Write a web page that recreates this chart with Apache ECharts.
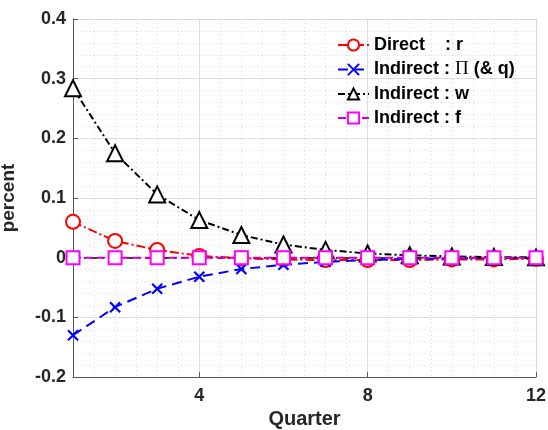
<!DOCTYPE html>
<html>
<head>
<meta charset="utf-8">
<script src="https://cdn.jsdelivr.net/npm/echarts@6/dist/echarts.min.js"></script>
<style>
  html, body { margin: 0; padding: 0; background: #fff; }
  #chart { width: 548px; height: 430px; }
</style>
</head>
<body>
<div id="chart"></div>
<script>
// quarters 1..12
const quarters = [1, 2, 3, 4, 5, 6, 7, 8, 9, 10, 11, 12];
const directR = [0.060, 0.028, 0.013, 0.003, -0.001, -0.003, -0.004, -0.004, -0.004, -0.003, -0.003, -0.002];
const indirectPi = [-0.130, -0.083, -0.052, -0.032, -0.019, -0.012, -0.007, -0.004, -0.002, -0.001, -0.0005, 0];
const indirectW = [0.284, 0.175, 0.106, 0.063, 0.038, 0.022, 0.013, 0.007, 0.004, 0.002, 0.001, 0.0005];
const indirectF = [0, 0, 0, 0, 0, 0, 0, 0, 0, 0, 0, 0];
const xTicks = [4, 8, 12];

const font = 'Liberation Sans, Arial, Helvetica, sans-serif';
const txt = '#262626';

function pairs(ys) {
  return quarters.map((q, i) => [q, ys[i]]);
}

let chart = echarts.init(document.getElementById('chart'));

const legendNames = {
  'Direct': '{a|Direct    : r}',
  'IndirectPi': '{a|Indirect : }{s|Π}{a| (& q)}',
  'IndirectW': '{a|Indirect : w}',
  'IndirectF': '{a|Indirect : f}'
};

chart.setOption({
  animation: false,
  grid: { left: 73, right: 12, top: 19, bottom: 53, outerBoundsMode: 'none' },
  legend: {
    orient: 'vertical',
    left: 332,
    top: 31,
    itemWidth: 31,
    itemHeight: 14,
    itemGap: 6,
    formatter: name => legendNames[name],
    textStyle: {
      rich: {
        a: { fontFamily: font, fontWeight: 'bold', fontSize: 18, color: '#000', lineHeight: 20 },
        s: { fontFamily: 'Liberation Serif, Times New Roman, serif', fontSize: 19, color: '#000', lineHeight: 20 }
      }
    },
    data: ['Direct', 'IndirectPi', 'IndirectW', 'IndirectF']
  },
  xAxis: [
    {
      type: 'value',
      min: 1, max: 12,
      position: 'bottom',
      name: 'Quarter',
      nameLocation: 'middle',
      nameGap: 28,
      nameTextStyle: { fontFamily: font, fontWeight: 'bold', fontSize: 20, color: txt },
      axisLine: { show: true, onZero: false, lineStyle: { color: '#555', width: 1 } },
      axisTick: { show: true, inside: true, length: 5, customValues: xTicks, lineStyle: { color: '#555' } },
      axisLabel: { customValues: xTicks, margin: 10, fontFamily: font, fontWeight: 'bold', fontSize: 18, color: txt },
      splitLine: { show: true, lineStyle: { color: '#dedede', width: 1 } }
    },
    {
      type: 'value',
      min: 1, max: 12, interval: 0.5,
      position: 'top',
      axisLine: { show: true, onZero: false, lineStyle: { color: '#d8d8d8', width: 1 } },
      axisTick: { show: false },
      axisLabel: { show: false },
      splitLine: { show: true, lineStyle: { color: '#d9d9d9', width: 1, type: [1, 3] } }
    }
  ],
  yAxis: [
    {
      type: 'value',
      min: -0.2, max: 0.4, interval: 0.1,
      position: 'left',
      name: 'percent',
      nameLocation: 'middle',
      nameGap: 55,
      nameMoveOverlap: false,
      nameTextStyle: { fontFamily: font, fontWeight: 'bold', fontSize: 19, color: txt },
      axisLine: { show: true, onZero: false, lineStyle: { color: '#555', width: 1 } },
      axisTick: { show: true, inside: true, length: 5, lineStyle: { color: '#555' } },
      axisLabel: { margin: 7, fontFamily: font, fontWeight: 'bold', fontSize: 18, color: txt },
      splitLine: { show: true, lineStyle: { color: '#dedede', width: 1 } }
    },
    {
      type: 'value',
      min: -0.2, max: 0.4, interval: 0.02,
      position: 'right',
      axisLine: { show: true, onZero: false, lineStyle: { color: '#d8d8d8', width: 1 } },
      axisTick: { show: false },
      axisLabel: { show: false },
      splitLine: { show: true, lineStyle: { color: '#d9d9d9', width: 1, type: [1, 3] } }
    }
  ],
  series: [
    {
      name: 'Direct',
      type: 'line',
      data: pairs(directR),
      symbol: 'emptyCircle',
      symbolSize: 14,
      itemStyle: { color: '#ff0000', borderWidth: 2 },
      lineStyle: { color: '#ff0000', width: 2, type: [9, 3, 2, 3] },
      z: 3
    },
    {
      name: 'IndirectPi',
      type: 'line',
      data: pairs(indirectPi),
      symbol: 'path://M0,0L10,10M10,0L0,10',
      symbolSize: 10,
      itemStyle: { color: '#0000ff', borderColor: '#0000ff', borderWidth: 2.2 },
      lineStyle: { color: '#0000ff', width: 2, type: [10, 6] },
      z: 4
    },
    {
      name: 'IndirectW',
      type: 'line',
      data: pairs(indirectW),
      symbol: 'emptyTriangle',
      symbolSize: 16,
      itemStyle: { color: '#000000', borderWidth: 2 },
      lineStyle: { color: '#000000', width: 2, type: [7, 3, 2, 3] },
      z: 5
    },
    {
      name: 'IndirectF',
      type: 'line',
      data: pairs(indirectF),
      symbol: 'emptyRect',
      symbolSize: 13,
      itemStyle: { color: '#ff00ff', borderWidth: 2 },
      lineStyle: { color: '#cc00cc', width: 2, type: [8, 4] },
      markLine: {
        silent: true,
        z: 5.5,
        symbol: 'none',
        label: { show: false },
        lineStyle: { color: '#000', width: 1.6, type: [6, 5, 2, 5] },
        data: [{ yAxis: 0 }]
      },
      z: 6
    }
  ]
});
</script>
</body>
</html>
